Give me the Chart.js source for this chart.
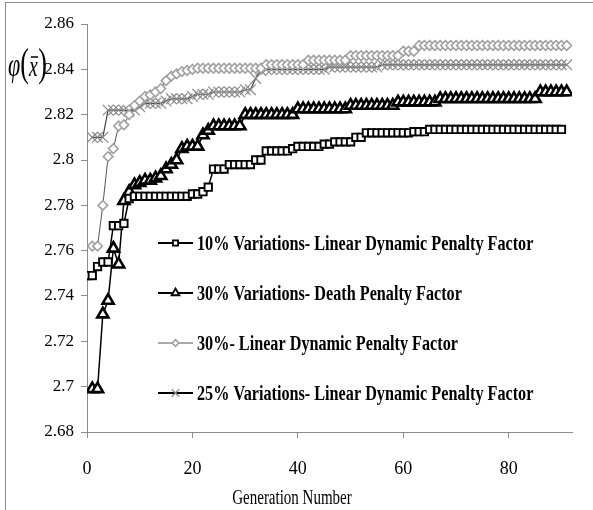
<!DOCTYPE html>
<html>
<head>
<meta charset="utf-8">
<script src="https://cdn.jsdelivr.net/npm/chart.js"></script>
<style>
  html, body { margin: 0; padding: 0; background: #fff; }
  #wrap { position: relative; width: 593px; height: 510px; overflow: hidden; }
  #chart { display: block; }
  #frame { position: absolute; left: 5px; top: 2px; width: 600px; height: 520px; border: 1px solid #8c8c8c; pointer-events: none; }
</style>
</head>
<body>
<div id="wrap">
  <canvas id="chart" width="593" height="510"></canvas>
  <div id="frame"></div>
</div>
<script>
// Generaciones: la serie de cuadrados empieza en 0, las otras en 1
const gensFrom0 = Array.from({ length: 91 }, (_, i) => i);
const gensFrom1 = Array.from({ length: 91 }, (_, i) => i + 1);

const xTicks = [0, 20, 40, 60, 80];
const yTicks = [2.68, 2.7, 2.72, 2.74, 2.76, 2.78, 2.8, 2.82, 2.84, 2.86];

const seriesLabels = [
  '10% Variations- Linear Dynamic Penalty Factor',
  '30% Variations- Death Penalty Factor',
  '30%- Linear Dynamic Penalty Factor',
  '25% Variations- Linear Dynamic Penalty Factor'
];
const xTitle = 'Generation Number';

const var10Linear = [
  2.749, 2.749, 2.753, 2.755, 2.755, 2.771, 2.771, 2.772, 2.783, 2.784,
  2.784, 2.784, 2.784, 2.784, 2.784, 2.784, 2.784, 2.784, 2.784, 2.784,
  2.785, 2.785, 2.786, 2.788, 2.796, 2.796, 2.796, 2.798, 2.798, 2.798,
  2.798, 2.798, 2.800, 2.800, 2.804, 2.804, 2.804, 2.804, 2.804, 2.805,
  2.806, 2.806, 2.806, 2.806, 2.806, 2.807, 2.807, 2.808, 2.808, 2.808,
  2.808, 2.810, 2.810, 2.812, 2.812, 2.812, 2.812, 2.812, 2.812, 2.812,
  2.812, 2.812, 2.8125, 2.8125, 2.8125, 2.8135, 2.8135, 2.8135, 2.8135, 2.8135,
  2.8135, 2.8135, 2.8135, 2.8135, 2.8135, 2.8135, 2.8135, 2.8135, 2.8135, 2.8135,
  2.8135, 2.8135, 2.8135, 2.8135, 2.8135, 2.8135, 2.8135, 2.8135, 2.8135, 2.8135, 2.8135
];

const var30Death = [
  2.699, 2.699, 2.732, 2.738, 2.761, 2.754, 2.782, 2.786, 2.789, 2.790,
  2.791, 2.791, 2.792, 2.793, 2.796, 2.798, 2.800, 2.805, 2.806, 2.806,
  2.806, 2.811, 2.813, 2.815, 2.815, 2.815, 2.815, 2.815, 2.815, 2.820,
  2.820, 2.820, 2.820, 2.820, 2.820, 2.820, 2.820, 2.820, 2.820, 2.8225,
  2.8225, 2.8225, 2.8225, 2.8225, 2.8225, 2.8225, 2.8225, 2.8225, 2.8225, 2.824,
  2.824, 2.824, 2.824, 2.824, 2.824, 2.824, 2.824, 2.824, 2.8255, 2.8255,
  2.8255, 2.8255, 2.8255, 2.8255, 2.8255, 2.8255, 2.827, 2.827, 2.827, 2.827,
  2.827, 2.827, 2.827, 2.827, 2.827, 2.827, 2.827, 2.827, 2.827, 2.827,
  2.827, 2.827, 2.827, 2.827, 2.827, 2.830, 2.830, 2.830, 2.830, 2.830, 2.830
];

const var30Linear = [
  2.762, 2.762, 2.780, 2.8015, 2.805, 2.815, 2.8155, 2.820, 2.824, 2.826,
  2.828, 2.8287, 2.830, 2.8315, 2.835, 2.837, 2.838, 2.839, 2.8395, 2.840,
  2.8405, 2.8405, 2.8405, 2.8405, 2.8405, 2.8405, 2.8405, 2.8405, 2.8405, 2.8405,
  2.8405, 2.8405, 2.8405, 2.842, 2.842, 2.842, 2.842, 2.842, 2.842, 2.842,
  2.842, 2.844, 2.844, 2.844, 2.844, 2.844, 2.844, 2.844, 2.844, 2.846,
  2.846, 2.846, 2.846, 2.846, 2.846, 2.846, 2.846, 2.846, 2.846, 2.848,
  2.848, 2.848, 2.8505, 2.8505, 2.8505, 2.8505, 2.8505, 2.8505, 2.8505, 2.8505,
  2.8505, 2.8505, 2.8505, 2.8505, 2.8505, 2.8505, 2.8505, 2.8505, 2.8505, 2.8505,
  2.8505, 2.8505, 2.8505, 2.8505, 2.8505, 2.8505, 2.8505, 2.8505, 2.8505, 2.8505, 2.8505
];

const var25Linear = [
  2.810, 2.810, 2.810, 2.822, 2.822, 2.822, 2.822, 2.8215, 2.822, 2.8235,
  2.825, 2.825, 2.825, 2.825, 2.826, 2.827, 2.827, 2.827, 2.827, 2.828,
  2.829, 2.829, 2.829, 2.830, 2.830, 2.830, 2.830, 2.830, 2.830, 2.831,
  2.831, 2.836, 2.8395, 2.840, 2.840, 2.840, 2.840, 2.840, 2.840, 2.840,
  2.840, 2.840, 2.840, 2.840, 2.840, 2.841, 2.841, 2.841, 2.841, 2.841,
  2.841, 2.841, 2.841, 2.841, 2.841, 2.842, 2.842, 2.842, 2.842, 2.842,
  2.842, 2.842, 2.842, 2.842, 2.842, 2.842, 2.842, 2.842, 2.842, 2.842,
  2.842, 2.842, 2.842, 2.842, 2.842, 2.842, 2.842, 2.842, 2.842, 2.842,
  2.842, 2.842, 2.842, 2.842, 2.842, 2.842, 2.842, 2.842, 2.842, 2.842, 2.842
];

const toPoints = (gens, vals) => vals.map((v, i) => ({ x: gens[i], y: v }));

// marcador propio para la leyenda (mismas formas que Chart.js)
function marker(ctx, style, x, y, r) {
  ctx.beginPath();
  if (style === 'rect') {
    const s = r * Math.SQRT1_2;
    ctx.rect(x - s, y - s, 2 * s, 2 * s);
  } else if (style === 'triangle') {
    ctx.moveTo(x, y - r);
    ctx.lineTo(x + r * 0.866, y + r / 2);
    ctx.lineTo(x - r * 0.866, y + r / 2);
    ctx.closePath();
  } else if (style === 'rectRot') {
    ctx.moveTo(x, y - r); ctx.lineTo(x + r, y); ctx.lineTo(x, y + r); ctx.lineTo(x - r, y);
    ctx.closePath();
  } else if (style === 'crossRot') {
    const s = r * Math.SQRT1_2;
    ctx.moveTo(x - s, y - s); ctx.lineTo(x + s, y + s);
    ctx.moveTo(x - s, y + s); ctx.lineTo(x + s, y - s);
    ctx.stroke();
    return;
  }
  ctx.fill();
  ctx.stroke();
}

const decor = {
  id: 'decor',
  afterDraw(chart) {
    const ctx = chart.ctx;
    const lx = 158, ly = 243, gap = 50, len = 35;

    chart.data.datasets.forEach((ds, i) => {
      const y = ly + i * gap;
      ctx.save();
      ctx.strokeStyle = i === 3 ? '#000' : ds.borderColor;
      ctx.lineWidth = i === 2 ? 1 : 2.2;
      ctx.beginPath();
      ctx.moveTo(lx, y); ctx.lineTo(lx + len, y);
      ctx.stroke();
      ctx.fillStyle = ds.pointBackgroundColor;
      ctx.strokeStyle = ds.pointBorderColor;
      ctx.lineWidth = Math.min(ds.pointBorderWidth, 1.8);
      marker(ctx, ds.pointStyle, lx + len / 2, y, ds.pointRadius * 0.7);
      ctx.translate(lx + len + 4, y + 6.6);
      ctx.scale(0.81, 1);
      ctx.fillStyle = '#000';
      ctx.font = 'bold 20px "Liberation Serif"';
      ctx.textBaseline = 'alphabetic';
      ctx.fillText(ds.label, 0, 0);
      ctx.restore();
    });

    // título del eje x
    ctx.save();
    ctx.translate(292, 504);
    ctx.scale(0.75, 1);
    ctx.font = '20px "Liberation Serif"';
    ctx.fillStyle = '#000';
    ctx.textAlign = 'center';
    ctx.fillText(xTitle, 0, 0);
    ctx.restore();

    // φ(x̄) arriba a la izquierda
    ctx.save();
    ctx.translate(8, 76);
    ctx.scale(0.65, 1);
    ctx.fillStyle = '#000';
    ctx.strokeStyle = '#000';
    let cx = 0;
    ctx.font = 'italic 34px "Liberation Serif"';
    ctx.fillText('φ', cx, 0); cx += ctx.measureText('φ').width;
    ctx.font = '40px "Liberation Serif"';
    ctx.fillText('(', cx, 0); cx += ctx.measureText('(').width;
    ctx.font = 'italic 30px "Liberation Serif"';
    const wx = ctx.measureText('x').width;
    ctx.fillText('x', cx, 0);
    ctx.lineWidth = 1.5;
    ctx.beginPath(); ctx.moveTo(cx + 3, -19); ctx.lineTo(cx + wx + 1, -19); ctx.stroke();
    cx += wx + 1;
    ctx.font = '40px "Liberation Serif"';
    ctx.fillText(')', cx, 0);
    ctx.restore();
  }
};

Chart.defaults.font.family = '"Liberation Serif", serif';
Chart.defaults.color = '#000';

new Chart(document.getElementById('chart').getContext('2d'), {
  type: 'line',
  data: {
    datasets: [
      {
        label: seriesLabels[0],
        data: toPoints(gensFrom0, var10Linear),
        borderColor: '#000', borderWidth: 1.5,
        pointStyle: 'rect', pointRadius: 5.2, pointBorderWidth: 1.9,
        pointBackgroundColor: '#fff', pointBorderColor: '#000'
      },
      {
        label: seriesLabels[1],
        data: toPoints(gensFrom1, var30Death),
        borderColor: '#000', borderWidth: 1.5,
        pointStyle: 'triangle', pointRadius: 6.4, pointBorderWidth: 2.6,
        pointBackgroundColor: '#fff', pointBorderColor: '#000'
      },
      {
        label: seriesLabels[2],
        data: toPoints(gensFrom1, var30Linear),
        borderColor: '#555', borderWidth: 1,
        pointStyle: 'rectRot', pointRadius: 4.8, pointBorderWidth: 1.6,
        pointBackgroundColor: '#fff', pointBorderColor: '#a0a0a0'
      },
      {
        label: seriesLabels[3],
        data: toPoints(gensFrom1, var25Linear),
        borderColor: '#444', borderWidth: 1.2,
        pointStyle: 'crossRot', pointRadius: 7.5, pointBorderWidth: 1.2,
        pointBackgroundColor: '#fff', pointBorderColor: '#8a8a8a'
      }
    ]
  },
  options: {
    responsive: false,
    devicePixelRatio: 1,
    animation: false,
    layout: { padding: { top: 24, right: 21, left: 0, bottom: 0 } },
    elements: { line: { tension: 0, fill: false } },
    plugins: { legend: { display: false }, tooltip: { enabled: false } },
    scales: {
      x: {
        type: 'linear', min: 0, max: 92,
        afterBuildTicks: s => { s.ticks = xTicks.map(v => ({ value: v })); },
        afterFit: s => { s.height = 78; },
        grid: { display: true, drawOnChartArea: false, tickLength: 6, color: '#8c8c8c' },
        border: { color: '#8c8c8c' },
        ticks: { font: { size: 18 }, padding: 20, maxRotation: 0, autoSkip: false }
      },
      y: {
        min: 2.68, max: 2.86,
        afterBuildTicks: s => { s.ticks = yTicks.map(v => ({ value: v })); },
        afterFit: s => { s.width = 87; },
        grid: { display: true, drawOnChartArea: false, tickLength: 6, color: '#8c8c8c' },
        border: { color: '#8c8c8c' },
        ticks: { font: { size: 17 }, padding: 7, callback: v => String(+v.toFixed(2)) }
      }
    }
  },
  plugins: [decor]
});
</script>
</body>
</html>
